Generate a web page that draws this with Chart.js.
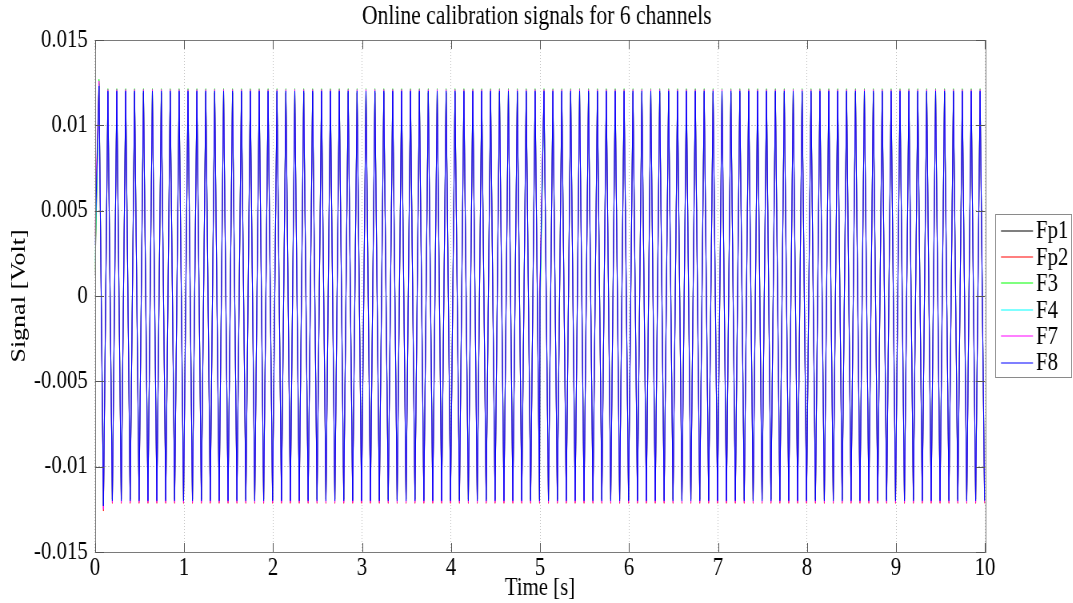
<!DOCTYPE html>
<html>
<head>
<meta charset="utf-8">
<script src="https://cdn.jsdelivr.net/npm/chart.js@4"></script>
<style>
html, body { margin: 0; padding: 0; background: #fff; overflow: hidden; }
#wrap { width: 1342px; height: 603px; transform: scaleX(0.8); transform-origin: 0 0; }
</style>
</head>
<body>
<div id="wrap"><canvas id="calChart" width="1342" height="603"></canvas></div>
<script>
const channels = ['Fp1', 'Fp2', 'F3', 'F4', 'F7', 'F8'];
const colors = ['#000000', '#ff0000', '#00ff00', '#00ffff', '#ff00ff', '#0000ff'];

const xTicks = [0, 1, 2, 3, 4, 5, 6, 7, 8, 9, 10];
const xTickLabels = ['0', '1', '2', '3', '4', '5', '6', '7', '8', '9', '10'];
const yTicks = [-0.015, -0.01, -0.005, 0, 0.005, 0.01, 0.015];
const yTickLabels = ['-0.015', '-0.01', '-0.005', '0', '0.005', '0.01', '0.015'];

// turning points of the calibration sine (peak, trough, peak, ...) in seconds
const turnTimes = [
  0.045,0.095,0.145,0.195,0.245,0.295,0.345,0.395,0.445,0.495,0.545,0.595,0.645,0.695,0.745,0.795,0.845,0.895,0.945,0.995,
  1.045,1.095,1.145,1.195,1.245,1.295,1.345,1.395,1.445,1.495,1.545,1.595,1.645,1.695,1.745,1.795,1.845,1.895,1.945,1.995,
  2.045,2.095,2.145,2.195,2.245,2.295,2.345,2.395,2.445,2.495,2.545,2.595,2.645,2.695,2.745,2.795,2.845,2.895,2.945,2.995,
  3.045,3.095,3.145,3.195,3.245,3.295,3.345,3.395,3.445,3.495,3.545,3.595,3.645,3.695,3.745,3.795,3.845,3.895,3.945,3.995,
  4.045,4.095,4.145,4.195,4.245,4.295,4.345,4.395,4.445,4.495,4.545,4.595,4.645,4.695,4.745,4.795,4.845,4.895,4.945,4.995,
  5.045,5.095,5.145,5.195,5.245,5.295,5.345,5.395,5.445,5.495,5.545,5.595,5.645,5.695,5.745,5.795,5.845,5.895,5.945,5.995,
  6.045,6.095,6.145,6.195,6.245,6.295,6.345,6.395,6.445,6.495,6.545,6.595,6.645,6.695,6.745,6.795,6.845,6.895,6.945,6.995,
  7.045,7.095,7.145,7.195,7.245,7.295,7.345,7.395,7.445,7.495,7.545,7.595,7.645,7.695,7.745,7.795,7.845,7.895,7.945,7.995,
  8.045,8.095,8.145,8.195,8.245,8.295,8.345,8.395,8.445,8.495,8.545,8.595,8.645,8.695,8.745,8.795,8.845,8.895,8.945,8.995,
  9.045,9.095,9.145,9.195,9.245,9.295,9.345,9.395,9.445,9.495,9.545,9.595,9.645,9.695,9.745,9.795,9.845,9.895,9.945,9.995
];

// per channel levels (Volt), order as in channels
const peakLevel   = [0.0119, 0.0119, 0.01215, 0.0120, 0.0121, 0.0120];
const troughLevel = [-0.0119, -0.01215, -0.0119, -0.0120, -0.0121, -0.0120];
const onsetLevel  = [0.0012, 0.0035, 0.0015, 0.0020, 0.0040, 0.0030];
const firstPeak   = [0.0124, 0.0125, 0.0127, 0.0124, 0.0126, 0.0123];
const firstTrough = [-0.0123, -0.0126, -0.0122, -0.0123, -0.0125, -0.0123];
const restartTime = 5.0;
const restartLevel = [0.0002, 0.0004, -0.0012, -0.0004, 0.0008, 0.0003];

function buildSeries(c) {
  const pts = [{ x: 0, y: onsetLevel[c] }];
  turnTimes.forEach(function(t, i) {
    if (t > restartTime && pts[pts.length - 1].x < restartTime) {
      pts.push({ x: restartTime, y: restartLevel[c] });
    }
    let y = i % 2 === 0 ? peakLevel[c] : troughLevel[c];
    if (i === 0) y = firstPeak[c];
    if (i === 1) y = firstTrough[c];
    pts.push({ x: t, y: y });
  });
  return pts;
}

const SX = 0.8; // horizontal squeeze of the whole figure
const W = 1342;
const serif = 'Liberation Serif, Times New Roman, serif';

const boxPlugin = {
  id: 'matlabBox',
  afterDatasetsDraw: function(chart) {
    const ctx = chart.ctx;
    const a = chart.chartArea;
    const xs = chart.scales.x, ys = chart.scales.y;
    ctx.save();
    ctx.strokeStyle = '#7a7a7a';
    ctx.lineWidth = 1;
    ctx.strokeRect(Math.round(a.left) + 0.5, Math.round(a.top) + 0.5,
      Math.round(a.right - a.left), Math.round(a.bottom - a.top));
    ctx.strokeStyle = '#555';
    ctx.beginPath();
    xTicks.forEach(function(v) {
      const px = Math.round(xs.getPixelForValue(v)) + 0.5;
      ctx.moveTo(px, a.bottom); ctx.lineTo(px, a.bottom - 9);
      ctx.moveTo(px, a.top); ctx.lineTo(px, a.top + 9);
    });
    yTicks.forEach(function(v) {
      const py = Math.round(ys.getPixelForValue(v)) + 0.5;
      ctx.moveTo(a.left, py); ctx.lineTo(a.left + 9 / SX, py);
      ctx.moveTo(a.right, py); ctx.lineTo(a.right - 9 / SX, py);
    });
    ctx.stroke();
    ctx.restore();
  },
  afterDraw: function(chart) {
    const ctx = chart.ctx;
    const bx = 995 / SX, bw = (1072 - 995) / SX, by = 214, bh = 163;
    ctx.save();
    ctx.fillStyle = '#fff';
    ctx.fillRect(bx, by, bw, bh);
    ctx.strokeStyle = '#8a8a8a';
    ctx.lineWidth = 1;
    ctx.strokeRect(Math.round(bx) + 0.5, by + 0.5, Math.round(bw) - 1, bh);
    ctx.font = '26px ' + serif;
    ctx.textBaseline = 'middle';
    ctx.textAlign = 'left';
    channels.forEach(function(name, i) {
      const y = 230.5 + i * 26.4;
      ctx.strokeStyle = colors[i];
      ctx.lineWidth = 1.2;
      ctx.beginPath();
      ctx.moveTo(1001 / SX, Math.round(y));
      ctx.lineTo(1033 / SX, Math.round(y));
      ctx.stroke();
      ctx.fillStyle = '#000';
      ctx.fillText(name, 1036 / SX, y + 1);
    });
    ctx.restore();
  }
};

const datasets = channels.map(function(name, c) {
  return {
    label: name,
    data: buildSeries(c),
    borderColor: colors[c],
    borderWidth: c === channels.length - 1 ? 1 : 0.8,
    pointRadius: 0,
    tension: 0,
    fill: false,
    order: channels.length - 1 - c
  };
});

new Chart(document.getElementById('calChart'), {
  type: 'line',
  data: { datasets: datasets },
  options: {
    responsive: false,
    animation: false,
    devicePixelRatio: 1,
    layout: { padding: 0 },
    plugins: {
      legend: { display: false },
      tooltip: { enabled: false },
      title: {
        display: true,
        text: 'Online calibration signals for 6 channels',
        color: '#000',
        font: { family: serif, size: 27, weight: 'normal' },
        padding: { top: 1, bottom: 6.6 }
      }
    },
    scales: {
      x: {
        type: 'linear',
        min: 0,
        max: 10,
        afterBuildTicks: function(s) { s.ticks = xTicks.map(function(v) { return { value: v }; }); },
        afterFit: function(s) { s.height = 51; },
        ticks: {
          color: '#000',
          padding: 1,
          maxRotation: 0,
          font: { family: serif, size: 26 },
          callback: function(v, i) { return xTickLabels[i]; }
        },
        grid: { color: '#c4c4c4', drawTicks: false },
        border: { display: false, dash: [1, 2] },
        title: {
          display: true,
          text: 'Time [s]',
          color: '#000',
          font: { family: serif, size: 26 },
          padding: { top: 0, bottom: -1 }
        }
      },
      y: {
        min: -0.015,
        max: 0.015,
        afterBuildTicks: function(s) { s.ticks = yTicks.map(function(v) { return { value: v }; }); },
        afterFit: function(s) { s.width = 95 / SX; },
        ticks: {
          color: '#000',
          padding: 9,
          font: { family: serif, size: 26 },
          callback: function(v, i) { return yTickLabels[i]; }
        },
        grid: { color: '#c4c4c4', drawTicks: false },
        border: { display: false, dash: [2, 2] },
        title: {
          display: true,
          text: 'Signal [Volt]',
          color: '#000',
          font: { family: serif, size: 26 },
          padding: { top: 9, bottom: 0 }
        }
      },
      // empty right-hand axis keeps room for the legend
      yRight: {
        axis: 'y',
        position: 'right',
        min: -0.015,
        max: 0.015,
        afterFit: function(s) { s.width = W - 985 / SX; },
        ticks: { display: false },
        grid: { display: false, drawTicks: false },
        border: { display: false }
      }
    }
  },
  plugins: [boxPlugin]
});
</script>
</body>
</html>
